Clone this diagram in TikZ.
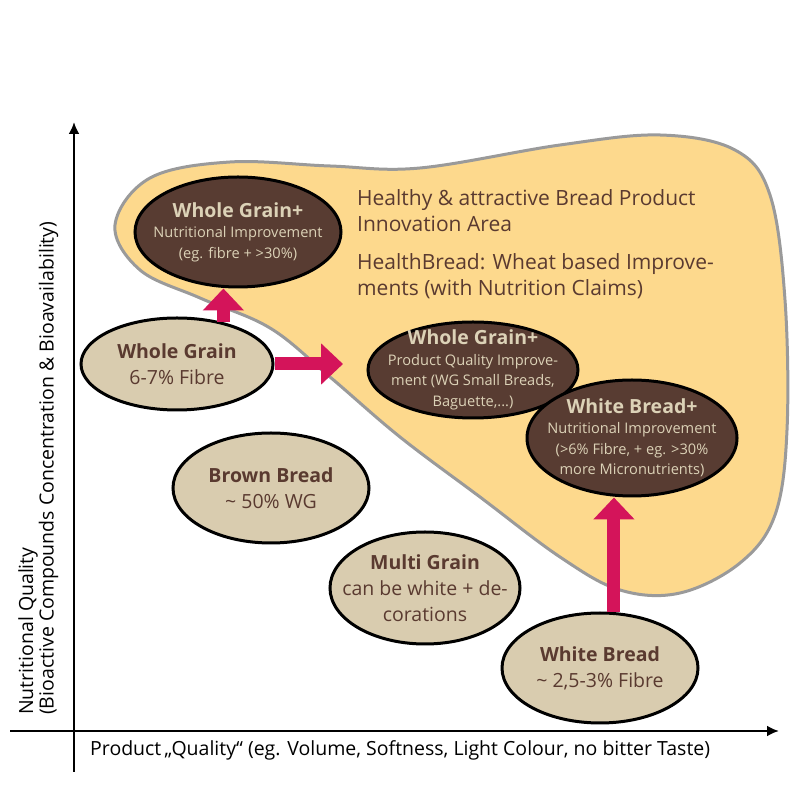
\documentclass[tikz,border=0pt]{standalone}
\usepackage{fontspec}
\setmainfont{Open Sans}
\usepackage{xcolor}
\usepackage{tikz}
\usetikzlibrary{arrows.meta,shapes.geometric}

\definecolor{areafill}{HTML}{FDD98D}
\definecolor{arealine}{HTML}{9A9A9A}
\definecolor{ovalfill}{HTML}{D9CCAF}
\definecolor{ovaldark}{HTML}{583C32}
\definecolor{ovalink}{HTML}{DCD2B7}
\definecolor{inkbrown}{HTML}{5A3A30}
\definecolor{arrowpink}{HTML}{D4145A}

\newcommand{\ovalhead}[1]{{\fontsize{19.5}{21}\selectfont\bfseries #1}}

\begin{document}
\begin{tikzpicture}[
  x=1pt,y=1pt,
  area/.style={fill=areafill,draw=arealine,line width=3pt},
  lightoval/.style={ellipse,draw=black,line width=3pt,fill=ovalfill,text=inkbrown,
                    align=center,inner sep=-25pt,font=\fontsize{19.5}{26}\selectfont},
  darkoval/.style={ellipse,draw=black,line width=3pt,fill=ovaldark,text=ovalink,
                   align=center,inner sep=-25pt,font=\fontsize{14.6}{20.5}\selectfont},
  bigarr/.style={draw=arrowpink,line width=13pt,-{Triangle[length=22pt,width=40pt]}},
  axis/.style={draw=black,line width=2.5pt,-{Latex[length=12pt,width=11pt]}},
  axlabel/.style={text=black,font=\fontsize{19.5}{18.5}\selectfont,inner sep=0pt}
]
\useasboundingbox (0,0) rectangle (800,800);

% innovation area
\draw[area] plot[smooth cycle,tension=0.6] coordinates {
  (115,575) (150,622) (230,638) (330,634) (420,632) (560,655) (660,665)
  (735,650) (770,605) (785,500) (787,370) (775,285) (740,237) (680,207)
  (620,210) (560,243) (480,303) (400,363) (330,423) (270,472) (200,502) (140,530)};
\node[anchor=north west,align=left,text=inkbrown,inner sep=0pt,
      font=\fontsize{21}{26}\selectfont] (areatext) at (357,611)
  {Healthy \& attractive Bread Product\\Innovation Area\\[12pt]
   HealthBread: Wheat based Improve-\\ments (with Nutrition Claims)};

% axes
\coordinate (ybot) at (74,28);
\coordinate (ytop) at (74,678);
\coordinate (xleft) at (10,69);
\coordinate (xright) at (779,69);
\draw[axis] (ybot) -- (ytop);
\draw[axis] (xleft) -- (xright);
\node[axlabel,anchor=west] (xlab) at (90,50)
  {Product\,„Quality“ (eg. Volume, Softness, Light Colour, no bitter Taste)};
\node[axlabel,rotate=90,anchor=north west,align=left] (ylab) at (18,85)
  {Nutritional Quality\\(Bioactive Compounds Concentration \& Bioavailability)};

% bread types
\node[lightoval,minimum width=192pt,minimum height=92pt] (wg) at (177,436)
  {\ovalhead{Whole Grain}\\6-7\% Fibre};
\node[lightoval,minimum width=196pt,minimum height=110pt] (bb) at (271,312)
  {\ovalhead{Brown Bread}\\\textasciitilde{} 50\% WG};
\node[lightoval,minimum width=190pt,minimum height=112pt] (mg) at (425,212)
  {\ovalhead{Multi Grain}\\can be white + de-\\corations};
\node[lightoval,minimum width=196pt,minimum height=110pt] (wb) at (600,132)
  {\ovalhead{White Bread}\\\textasciitilde{} 2,5-3\% Fibre};

% improved products
\node[darkoval,minimum width=206pt,minimum height=110pt] (wgn) at (238,568)
  {\ovalhead{Whole Grain+}\\Nutritional Improvement\\(eg. fibre + >30\%)};
\node[darkoval,minimum width=210pt,minimum height=96pt] (wgq) at (473,430)
  {\ovalhead{Whole Grain+}\\Product Quality Improve-\\ment (WG Small Breads,\\Baguette,...)};
\node[darkoval,minimum width=210pt,minimum height=116pt] (wbn) at (632,362)
  {\ovalhead{White Bread+}\\Nutritional Improvement\\(>6\% Fibre, + eg. >30\%\\more Micronutrients)};

% steps
\coordinate (wgtip) at (343,436);
\draw[bigarr] (wg.42) -- (wg.42 |- wgn.south);
\draw[bigarr] (wg.east) -- (wgtip);
\draw[bigarr] (wb.76) -- (wb.76 |- wbn.south);
\end{tikzpicture}
\end{document}
